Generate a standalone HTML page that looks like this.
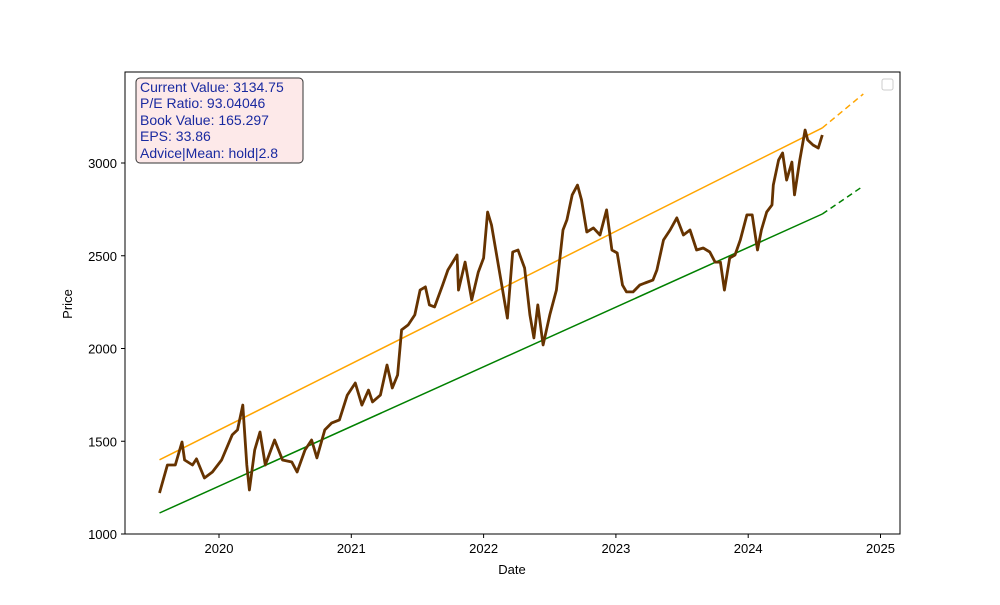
<!DOCTYPE html>
<html><head><meta charset="utf-8"><style>
body{margin:0;background:#fff;}
svg text{font-family:"Liberation Sans","DejaVu Sans",sans-serif;}
</style></head><body>
<svg id="chart" width="1000" height="600" xmlns="http://www.w3.org/2000/svg">
<rect width="1000" height="600" fill="#fff"/>
<g id="plot"></g>
<rect x="125" y="72" width="775" height="462" fill="none" stroke="#000" stroke-width="1"/>
<g id="xticks"></g><g id="yticks"></g>
<text x="512" y="574" font-size="13" text-anchor="middle">Date</text>
<text x="72" y="304" font-size="13" text-anchor="middle" transform="rotate(-90 72 304)">Price</text>
<g>
<rect x="136" y="78" width="167" height="85" rx="4" fill="#fde9e9" stroke="#333" stroke-width="1"/>
<text x="140" y="92" font-size="14" fill="#1a2aa0">Current Value: 3134.75</text>
<text x="140" y="108" font-size="14" fill="#1a2aa0">P/E Ratio: 93.04046</text>
<text x="140" y="125" font-size="14" fill="#1a2aa0">Book Value: 165.297</text>
<text x="140" y="141" font-size="14" fill="#1a2aa0">EPS: 33.86</text>
<text x="140" y="158" font-size="14" fill="#1a2aa0">Advice|Mean: hold|2.8</text>
</g>
<rect x="882" y="79" width="11" height="11" rx="2" fill="#fff" stroke="#ccc"/>
</svg>
<script>
const years=[2019.55,2019.61,2019.67,2019.72,2019.74,2019.80,2019.83,2019.89,2019.95,2020.02,2020.10,2020.14,2020.18,2020.21,2020.23,2020.27,2020.31,2020.35,2020.42,2020.48,2020.55,2020.59,2020.65,2020.70,2020.74,2020.80,2020.85,2020.91,2020.97,2021.03,2021.08,2021.13,2021.16,2021.22,2021.27,2021.31,2021.35,2021.38,2021.43,2021.48,2021.52,2021.56,2021.59,2021.63,2021.69,2021.73,2021.80,2021.81,2021.86,2021.91,2021.96,2022.00,2022.03,2022.06,2022.18,2022.22,2022.26,2022.31,2022.35,2022.38,2022.41,2022.45,2022.50,2022.55,2022.60,2022.63,2022.67,2022.71,2022.74,2022.78,2022.83,2022.88,2022.93,2022.97,2023.01,2023.05,2023.08,2023.13,2023.18,2023.22,2023.28,2023.31,2023.36,2023.41,2023.46,2023.51,2023.56,2023.61,2023.66,2023.71,2023.75,2023.79,2023.82,2023.86,2023.90,2023.94,2023.99,2024.03,2024.07,2024.10,2024.14,2024.18,2024.19,2024.23,2024.26,2024.29,2024.33,2024.35,2024.39,2024.43,2024.45,2024.49,2024.53,2024.56];
const prices=[1221,1372,1372,1496,1399,1372,1405,1302,1334,1399,1534,1561,1695,1372,1237,1453,1550,1372,1507,1399,1388,1334,1453,1507,1410,1561,1598,1615,1749,1814,1695,1776,1712,1749,1911,1787,1857,2100,2127,2181,2315,2332,2235,2224,2342,2423,2504,2315,2466,2262,2412,2488,2736,2666,2164,2520,2531,2434,2181,2057,2235,2019,2181,2315,2639,2693,2828,2881,2801,2628,2650,2612,2747,2531,2515,2342,2305,2305,2342,2353,2369,2423,2585,2639,2704,2612,2639,2531,2542,2520,2466,2466,2315,2488,2504,2585,2720,2720,2531,2639,2736,2774,2881,3016,3054,2908,3005,2828,3016,3178,3124,3097,3081,3151];
const trendYears=[2019.55,2024.56,2024.87];
const upperTrend=[1400,3189,3372];
const lowerTrend=[1113,2725,2876];
const xTickLabels=["2020","2021","2022","2023","2024","2025"];
const yTickLabels=["1000","1500","2000","2500","3000"];
const NS="http://www.w3.org/2000/svg";
const xs=v=>219+(v-2020)*132.3;
const ys=v=>534-(v-1000)*0.1855;
const plot=document.getElementById('plot');
function mk(t,a,p){const e=document.createElementNS(NS,t);for(const k in a)e.setAttribute(k,a[k]);p.appendChild(e);return e;}
function seg(a,b,arr,yrs,color,dash,name){
  const pts=[];for(let i=a;i<=b;i++)pts.push(xs(yrs[i]).toFixed(1)+','+ys(arr[i]).toFixed(1));
  const el=mk('polyline',{points:pts.join(' '),fill:'none',stroke:color,'stroke-width':1.5},plot);
  if(dash)el.setAttribute('stroke-dasharray','6,4');
  
  
}
seg(0,1,upperTrend,trendYears,'#ffa500',false,'upper-trend-line');
seg(1,2,upperTrend,trendYears,'#ffa500',true,'upper-trend-forecast');
seg(0,1,lowerTrend,trendYears,'#008000',false,'lower-trend-line');
seg(1,2,lowerTrend,trendYears,'#008000',true,'lower-trend-forecast');
const pp=prices.map((p,i)=>xs(years[i]).toFixed(1)+','+ys(p).toFixed(1)).join(' ');
const pl=mk('polyline',{points:pp,fill:'none',stroke:'#663300','stroke-width':2.8,'stroke-linejoin':'round'},plot);


const xt=document.getElementById('xticks'),yt=document.getElementById('yticks');
xTickLabels.forEach(l=>{const x=xs(+l);
  const t=mk('line',{x1:x,x2:x,y1:534,y2:538,stroke:'#000'},xt);
  
  
  const tx=mk('text',{x:x,y:553,'font-size':13,'text-anchor':'middle'},xt);tx.textContent=l;
  
  });
yTickLabels.forEach(l=>{const y=ys(+l);
  const t=mk('line',{x1:121,x2:125,y1:y,y2:y,stroke:'#000'},yt);
  
  
  const tx=mk('text',{x:117,y:y+5,'font-size':13,'text-anchor':'end'},yt);tx.textContent=l;
  
  });
</script>
</body></html>
